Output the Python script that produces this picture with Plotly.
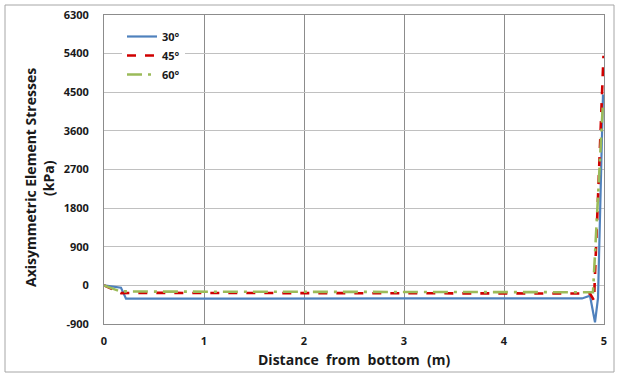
import plotly.graph_objects as go

# Data
x30 = [0, 0.17, 0.22, 1.0, 2.0, 3.0, 4.0, 4.78, 4.86, 4.91, 4.94, 4.99]
y30 = [0, -55, -310, -305, -305, -305, -305, -305, -240, -860, -300, 4450]

x45 = [0, 0.17, 0.5, 1.0, 2.0, 3.0, 4.0, 4.8, 4.86, 4.90, 4.995]
y45 = [0, -180, -175, -175, -175, -175, -175, -175, -190, -350, 5350]

x60 = [0, 0.16, 0.5, 1.0, 2.0, 3.0, 4.0, 4.78, 4.85, 4.89, 4.99]
y60 = [0, -140, -145, -145, -145, -145, -145, -145, -150, -160, 4270]

series = [
    ("30°", x30, y30, "#4F81BD", "solid", 2.2),
    ("45°", x45, y45, "#D00000", "dash", 2.6),
    ("60°", x60, y60, "#9BBB59", "longdashdot", 2.6),
]

x_ticks = [0, 1, 2, 3, 4, 5]
y_ticks = [-900, 0, 900, 1800, 2700, 3600, 4500, 5400, 6300]

fig = go.Figure()
for name, xs, ys, col, dash, w in series:
    fig.add_trace(go.Scatter(x=xs, y=ys, mode="lines", name=name,
                             line=dict(color=col, dash=dash, width=w)))

L, T, PW, PH = 104, 15, 500, 309
W, H = 619, 376
R = W - L - PW
B = H - T - PH

def px_x(p):  # pixel -> paper x
    return (p - L) / PW

def px_y(p):  # pixel -> paper y
    return (T + PH - p) / PH

font = "Open Sans"
dark = "#1a1a1a"
fig.update_layout(
    width=W, height=H,
    margin=dict(l=L, r=R, t=T, b=B, autoexpand=False),
    paper_bgcolor="white", plot_bgcolor="white",
    font=dict(family=font, color=dark),
    showlegend=True,
    legend=dict(x=px_x(122), y=px_y(22), xanchor="left", yanchor="top",
                bgcolor="rgba(255,255,255,1)",
                font=dict(family=font, size=11, color=dark, weight="bold"),
                itemwidth=30, tracegroupgap=0),
    xaxis=dict(range=[0, 5], tickvals=x_ticks, ticktext=[str(v) for v in x_ticks],
               showgrid=True, gridcolor="#8c8c8c", gridwidth=1,
               showline=True, linecolor="#8c8c8c", mirror=True, zeroline=False,
               ticks="", tickfont=dict(family=font, size=11, weight="bold"),
               ticklabelstandoff=7, ticklabeloverflow="allow"),
    yaxis=dict(range=[-900, 6300], tickvals=y_ticks, ticktext=[str(v) for v in y_ticks],
               showgrid=True, gridcolor="#c0c0c0", gridwidth=1,
               zeroline=True, zerolinecolor="#c0c0c0", zerolinewidth=1,
               showline=True, linecolor="#8c8c8c", mirror=True,
               ticks="", tickfont=dict(family=font, size=11, weight="bold"),
               ticklabelstandoff=12, ticklabeloverflow="allow"),
    annotations=[
        dict(text="Distance  from  bottom  (m)", xref="paper", yref="paper",
             x=px_x(354), y=px_y(359), xanchor="center", yanchor="middle", showarrow=False,
             font=dict(family=font, size=14, weight="bold", color=dark)),
        dict(text="Axisymmetric Element Stresses", xref="paper", yref="paper",
             x=px_x(30), y=px_y(178), xanchor="center", yanchor="middle", showarrow=False,
             textangle=-90, font=dict(family=font, size=14, weight="bold", color=dark)),
        dict(text="(kPa)", xref="paper", yref="paper",
             x=px_x(48), y=px_y(178), xanchor="center", yanchor="middle", showarrow=False,
             textangle=-90, font=dict(family=font, size=14, weight="bold", color=dark)),
    ],
    shapes=[
        dict(type="rect", xref="paper", yref="paper",
             x0=px_x(5), x1=px_x(614), y0=px_y(372), y1=px_y(5),
             line=dict(color="#a6a6a6", width=1), fillcolor="rgba(0,0,0,0)", layer="below"),
    ],
)

fig.write_html("out.html", config={"displayModeBar": False},
               post_script="document.body.style.margin='0';document.body.style.overflow='hidden';")
